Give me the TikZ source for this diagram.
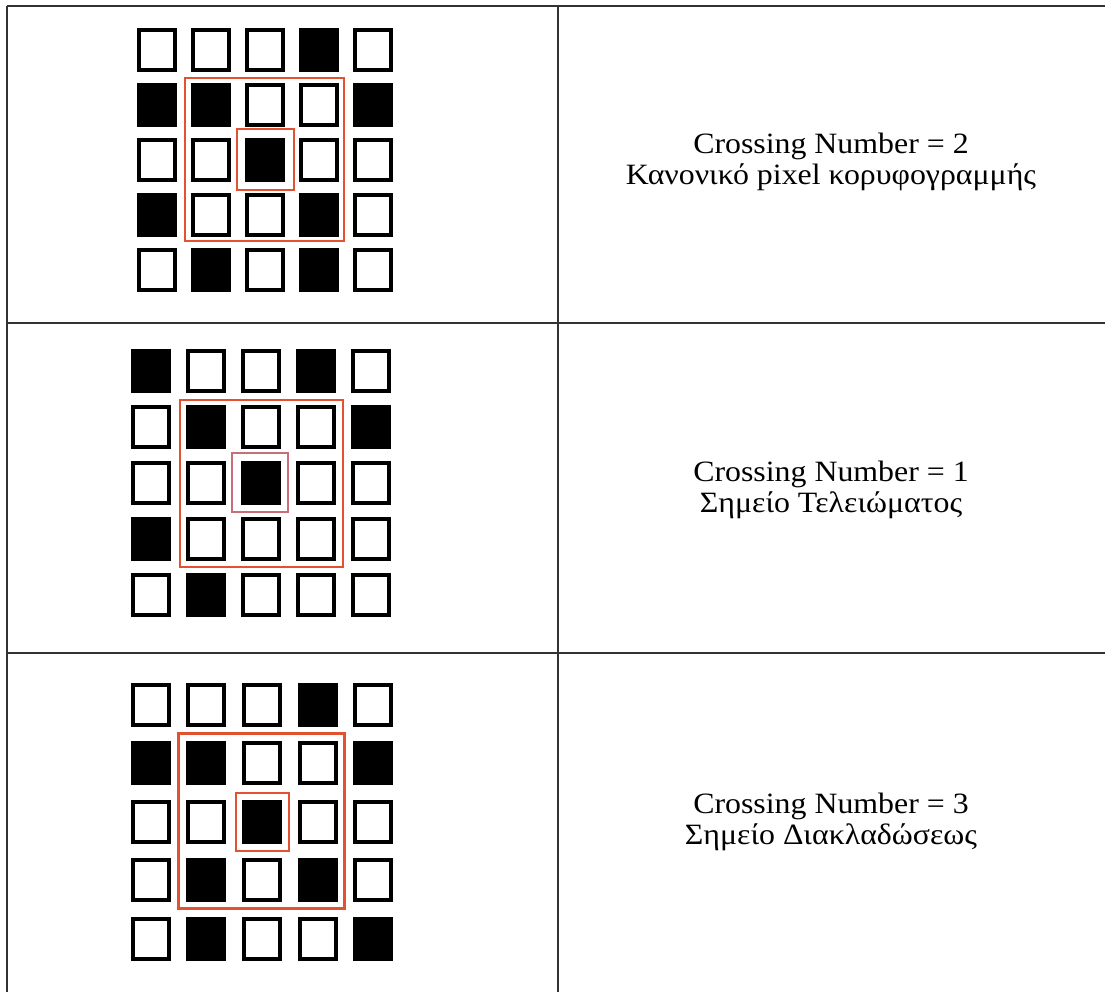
\documentclass[tikz,border=0pt]{standalone}
\usepackage{fontspec}
\setmainfont{Liberation Serif}
\usetikzlibrary{positioning}
\definecolor{rule}{RGB}{50,50,50}
\definecolor{redline}{RGB}{226,82,48}
\definecolor{pinkline}{RGB}{200,110,120}
\tikzset{
  pix0/.style   = {draw=black, line width=4pt, fill=white},
  pix1/.style   = {draw=black, line width=4pt, fill=black},
  tabline/.style = {draw=rule, line width=2.2pt},
  win/.style    = {draw=redline, line width=2pt},
  cntext/.style = {align=center, font=\fontsize{29.5}{31}\selectfont, inner sep=0pt,
                   xscale=1.08, transform shape},
}
% 5x5 neighbourhood: #1,#2 centre of first cell, #3,#4 pitch, #5 rows (1 = black)
\newcommand{\pixgrid}[5]{%
  \foreach [count=\r] \row in {#5}{
    \foreach [count=\c] \v in \row{
      \path[pix\v] ({#1+(\c-1)*#3-18},{#2+(\r-1)*#4-20}) rectangle ++(36,40);
    }
  }
}

\begin{document}
\begin{tikzpicture}[x=1pt, y=-1pt]
\useasboundingbox (0,0) rectangle (1105,992);
% table frame
\draw[tabline] (7,6) -- (1105,6);
\draw[tabline] (7,323) -- (1105,323);
\draw[tabline] (7,653) -- (1105,653);
\draw[tabline] (7,6) -- (7,992);
\draw[tabline] (558,6) -- (558,992);

% row 1: ridge pixel
\pixgrid{157}{50}{54}{55}{{0,0,0,1,0},{1,1,0,0,1},{0,0,1,0,0},{1,0,0,1,0},{0,1,0,1,0}}
\draw[win] (185,78) rectangle (344,241);
\draw[win] (237,129) rectangle (294,190);
\node[cntext] (cn2) at (831,162) {Crossing Number = 2\\Κανονικό pixel κορυφογραμμής};

% row 2: ending
\pixgrid{151}{371}{55}{56}{{1,0,0,1,0},{0,1,0,0,1},{0,0,1,0,0},{1,0,0,0,0},{0,1,0,0,0}}
\draw[win] (180,400) rectangle (343,567);
\draw[win, draw=pinkline] (232,453) rectangle (288,512);
\node[cntext] (cn1) at (831,490) {Crossing Number = 1\\Σημείο Τελειώματος};

% row 3: bifurcation
\pixgrid{150.5}{705}{55.7}{58.4}{{0,0,0,1,0},{1,1,0,0,1},{0,0,1,0,0},{0,1,0,1,0},{0,1,0,0,1}}
\draw[win, line width=3pt] (178,733) rectangle (344,908);
\draw[win] (236,793) rectangle (289,851);
\node[cntext] (cn3) at (831,822) {Crossing Number = 3\\Σημείο Διακλαδώσεως};
\end{tikzpicture}
\end{document}
